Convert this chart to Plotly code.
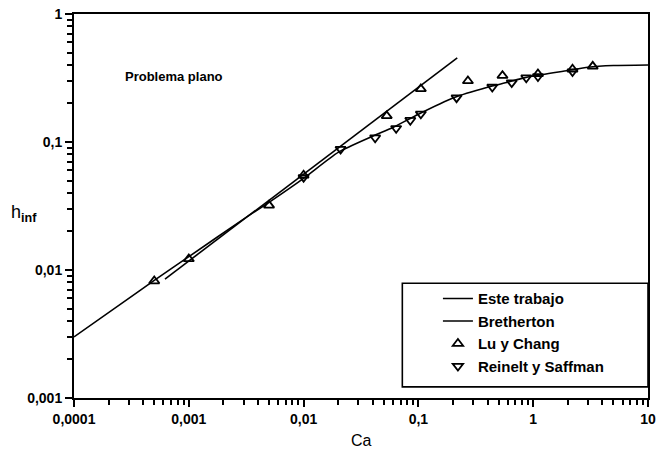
import plotly.graph_objects as go

# Film thickness h_inf versus capillary number Ca (plane problem)

# "Este trabajo" computed curve
ca_este = [1e-4, 3e-4, 5e-4, 1e-3, 3e-3, 5e-3, 1e-2, 2e-2, 4e-2, 6e-2, 0.1, 0.2,
           0.4, 0.6, 0.8, 1.0, 2.0, 3.0, 5.0, 10.0]
h_este = [0.0030, 0.0060, 0.0083, 0.0127, 0.0250, 0.0338, 0.052, 0.083, 0.111,
          0.130, 0.165, 0.221, 0.268, 0.293, 0.314, 0.328, 0.362, 0.384, 0.396, 0.400]

# Bretherton asymptotic law (straight line in log-log)
ca_breth = [6.2e-4, 0.218]
h_breth = [0.0085, 0.455]

# Lu y Chang
ca_lu = [0.0005, 0.001, 0.005, 0.01, 0.053, 0.105, 0.27, 0.54, 1.1, 2.2, 3.3]
h_lu = [0.0082, 0.0122, 0.032, 0.055, 0.16, 0.26, 0.30, 0.33, 0.34, 0.37, 0.39]

# Reinelt y Saffman
ca_rs = [0.01, 0.021, 0.042, 0.064, 0.085, 0.105, 0.215, 0.44, 0.65, 0.87, 1.1, 2.2]
h_rs = [0.053, 0.088, 0.108, 0.128, 0.148, 0.166, 0.222, 0.269, 0.291, 0.318, 0.325, 0.355]

x_tickvals = [1e-4, 1e-3, 1e-2, 1e-1, 1, 10]
x_ticktext = ["0,0001", "0,001", "0,01", "0,1", "1", "10"]
y_tickvals = [1e-3, 1e-2, 1e-1, 1]
y_ticktext = ["0,001", "0,01", "0,1", "1"]

FONT = "Liberation Sans, Arial, sans-serif"


def minor_positions(decades):
    """Intermediate log ticks 2..9 inside each decade."""
    return [m * d for d in decades[:-1] for m in range(2, 10)]


fig = go.Figure()
fig.add_trace(go.Scatter(x=ca_este, y=h_este, mode="lines", name="Este trabajo",
                         line=dict(color="black", width=1.6, shape="spline", smoothing=0.6)))
fig.add_trace(go.Scatter(x=ca_breth, y=h_breth, mode="lines", name="Bretherton",
                         line=dict(color="black", width=1.6)))
fig.add_trace(go.Scatter(x=ca_lu, y=h_lu, mode="markers", name="Lu y Chang",
                         marker=dict(symbol="triangle-up-open", size=9, color="black",
                                     line=dict(width=1.8, color="black"))))
fig.add_trace(go.Scatter(x=ca_rs, y=h_rs, mode="markers", name="Reinelt y Saffman",
                         marker=dict(symbol="triangle-down-open", size=9, color="black",
                                     line=dict(width=1.8, color="black"))))

axis_common = dict(
    type="log", showgrid=False, zeroline=False,
    showline=True, linecolor="black", linewidth=2, mirror=True,
    ticks="outside", ticklen=7, tickwidth=2, tickcolor="black",
    tickfont=dict(family=FONT, size=14, color="black", weight="bold"),
)

minor_style = dict(ticks="outside", ticklen=5, tickwidth=1.6, tickcolor="black",
                   showgrid=False)

fig.update_xaxes(range=[-4, 1], tickmode="array", tickvals=x_tickvals,
                 ticktext=x_ticktext,
                 minor=dict(tickmode="array", tickvals=minor_positions(x_tickvals),
                            **minor_style),
                 **axis_common)
fig.update_yaxes(range=[-3, 0], tickmode="array", tickvals=y_tickvals,
                 ticktext=y_ticktext,
                 minor=dict(tickmode="array", tickvals=minor_positions(y_tickvals),
                            **minor_style),
                 **axis_common)

# legend frame
fig.add_shape(type="rect", xref="paper", yref="paper",
              x0=0.572, x1=1.0, y0=0.029, y1=0.299,
              line=dict(color="black", width=1.6), fillcolor="white", layer="below")

fig.add_annotation(text="Problema plano", xref="paper", yref="paper",
                   x=(124 - 74) / 582, y=(398 - 76) / 385, xanchor="left", yanchor="middle",
                   showarrow=False, font=dict(family=FONT, size=13, color="black", weight="bold"))
fig.add_annotation(text="Ca", xref="paper", yref="paper",
                   x=0.5, y=-(441 - 398) / 385, xanchor="center", yanchor="middle",
                   showarrow=False, font=dict(family=FONT, size=16, color="black"))
fig.add_annotation(text="h<sub><b>inf</b></sub>", xref="paper", yref="paper",
                   x=-(74 - 8) / 582, y=(398 - 213) / 385, xanchor="left", yanchor="middle",
                   showarrow=False, font=dict(family=FONT, size=18, color="black"))

fig.update_layout(
    width=662, height=457,
    margin=dict(l=74, r=6, t=13, b=59),
    paper_bgcolor="white", plot_bgcolor="white",
    font=dict(family=FONT, size=13, color="black"),
    showlegend=True,
    legend=dict(x=(443 - 74) / 582, y=(398 - 282) / 385, xanchor="left", yanchor="top",
                bgcolor="rgba(0,0,0,0)", borderwidth=0,
                font=dict(family=FONT, size=15, color="black", weight="bold"),
                tracegroupgap=0),
)

fig.write_html("out.html")
